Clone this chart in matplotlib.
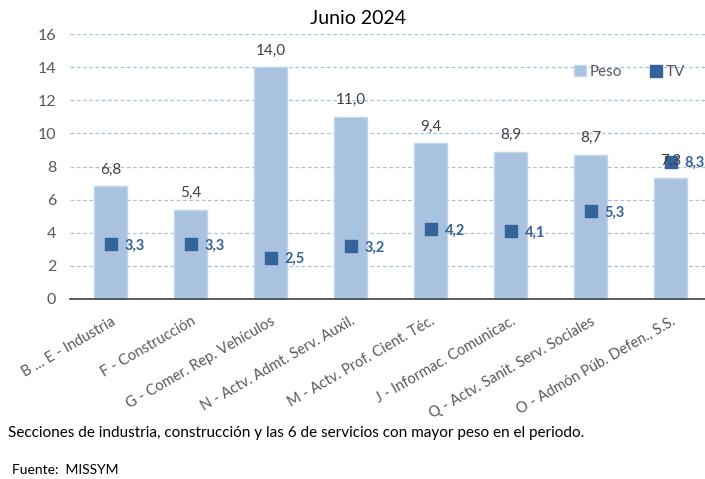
import matplotlib
matplotlib.use("Agg")
import matplotlib.pyplot as plt
from matplotlib.lines import Line2D
from matplotlib.patches import Patch

plt.rcParams["font.family"] = ["Lato", "DejaVu Sans"]

sectores = [
    "B ... E - Industria",
    "F - Construcción",
    "G - Comer. Rep. Vehículos",
    "N - Actv. Admt. Serv. Auxil.",
    "M - Actv. Prof. Cient. Téc.",
    "J - Informac. Comunicac.",
    "Q - Actv. Sanit. Serv. Sociales",
    "O - Admón Púb. Defen., S.S.",
]
peso = [6.8, 5.4, 14.0, 11.0, 9.4, 8.9, 8.7, 7.3]
tv = [3.3, 3.3, 2.5, 3.2, 4.2, 4.1, 5.3, 8.3]

BAR = "#A9C2E0"
BAR_EDGE = "#C3D5EB"
MARK = "#35639A"
GRID = "#A8C1E3"
TXT = "#595959"

fig = plt.figure(figsize=(7.05, 4.79), dpi=100)
ax = fig.add_axes([70 / 705, 180 / 479, 635 / 705, 265 / 479])

x = list(range(len(sectores)))
ax.bar(x, peso, width=0.41, color=BAR, edgecolor=BAR_EDGE, linewidth=1, zorder=2)
ax.scatter(x, tv, marker="s", s=85, color=MARK, zorder=3)

for i, (p, t) in enumerate(zip(peso, tv)):
    ax.annotate(f"{p:.1f}".replace(".", ","), (i, p), xytext=(0, 7),
                textcoords="offset points", ha="center", va="bottom",
                fontsize=11, color="#404040")
    ax.annotate(f"{t:.1f}".replace(".", ","), (i, t), xytext=(10, -1),
                textcoords="offset points", ha="left", va="center",
                fontsize=10.5, color=MARK, fontweight="bold")

ax.set_xlim(-0.51, 7.43)
ax.set_ylim(0, 16)
ax.set_yticks(range(0, 17, 2))
ax.yaxis.grid(True, color=GRID, linestyle=(0, (3, 2)), linewidth=0.9)
ax.set_axisbelow(True)
for s in ["top", "right", "left"]:
    ax.spines[s].set_visible(False)
ax.spines["bottom"].set_color("#404040")
ax.spines["bottom"].set_linewidth(1.2)
ax.tick_params(axis="y", length=0, labelsize=11.5, labelcolor=TXT, pad=10)
ax.tick_params(axis="x", length=0, labelsize=10.5, labelcolor=TXT, pad=11)
ax.set_xticks(x)
ax.set_xticklabels(sectores, rotation=30, ha="right", rotation_mode="anchor")

handles = [
    Patch(facecolor=BAR, edgecolor=BAR_EDGE),
    Line2D([], [], marker="s", linestyle="none", color=MARK, markersize=8),
]
ax.legend(handles, ["Peso", "TV"], loc="center right", bbox_to_anchor=(0.99, 0.857),
          ncol=2, frameon=False, fontsize=11, labelcolor=TXT,
          handlelength=0.8, handletextpad=0.25, columnspacing=1.8)

fig.text(358 / 705, 1 - 18 / 479, "Junio 2024", ha="center", va="center",
         fontsize=14, color="black")
fig.text(8 / 705, 1 - 433 / 479, "Secciones de industria, construcción y las 6 de servicios con mayor peso en el periodo.",
         ha="left", va="center", fontsize=11, color="black")
fig.text(12 / 705, 1 - 470 / 479, "Fuente:  MISSYM", ha="left", va="center",
         fontsize=10, color="black")

fig.savefig("out.png", dpi=100)
